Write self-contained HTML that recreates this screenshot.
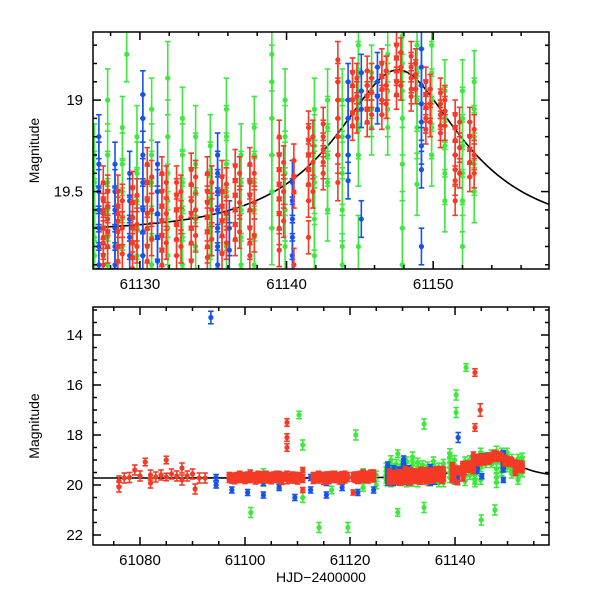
<!DOCTYPE html>
<html><head><meta charset="utf-8">
<style>
html,body{margin:0;padding:0;background:#fff;width:600px;height:600px;overflow:hidden;}
svg{display:block;}
text{font-family:"Liberation Sans",sans-serif;fill:#000;}
</style></head>
<body>
<svg id="chart" width="600" height="600" viewBox="0 0 600 600">
<defs>
<clipPath id="clipTop"><rect x="93" y="32" width="456" height="237"/></clipPath>
<clipPath id="clipBot"><rect x="93" y="307" width="456" height="238"/></clipPath>
</defs>
<g id="topPanel"></g>
<g id="botPanel"></g>
</svg>
<script>
// ---- data: [time, errorbar, [magnitudes]] per observing block ----
const redNights = [
[61076.0,0.2,[19.84,20.08]],[61077.0,0.2,[19.72]],[61078.0,0.2,[19.7]],[61079.0,0.2,[19.4]],
[61080.0,0.2,[19.64]],[61081.0,0.15,[19.08]],[61082.0,0.2,[19.92,19.6]],[61083.0,0.2,[19.68]],
[61084.0,0.2,[19.6]],[61085.0,0.15,[19.0,19.68]],[61086.0,0.2,[19.56]],[61087.0,0.2,[19.64]],
[61088.0,0.2,[19.32,19.8]],[61089.0,0.2,[19.64]],[61090.0,0.2,[19.56]],[61090.5,0.2,[20.16]],
[61091.3,0.2,[19.72]],[61092.4,0.2,[19.72]],
[61097.0,0.1,[19.6,19.7,19.8]],[61097.5,0.1,[19.62,19.78]],[61098.0,0.1,[19.65,19.75,19.85]],[61098.5,0.1,[19.6,19.8]],
[61099.0,0.1,[19.55,19.7,19.8]],[61099.5,0.1,[19.62,19.76]],[61100.0,0.1,[19.6,19.72,19.84]],[61100.5,0.1,[19.58,19.8]],
[61101.0,0.1,[19.5,19.68,19.8]],[61101.5,0.1,[19.6,19.74]],[61102.0,0.1,[19.62,19.74,19.86]],[61102.5,0.1,[19.55,19.8]],
[61103.0,0.1,[19.58,19.7,19.82]],[61103.5,0.1,[19.6,19.78]],[61104.0,0.1,[19.55,19.68,19.8]],[61104.5,0.1,[19.62,19.82]],
[61105.0,0.1,[19.6,19.72,19.85]],[61105.5,0.1,[19.58,19.76]],[61106.0,0.1,[19.55,19.7,19.8]],[61106.5,0.1,[19.62,19.8]],
[61107.0,0.1,[19.6,19.75,19.88]],[61107.5,0.1,[19.6,19.74]],[61108.0,0.15,[17.5,18.1,18.5,19.6,19.8]],[61108.5,0.1,[19.62,19.78]],
[61109.0,0.1,[19.58,19.7,19.82]],[61109.5,0.1,[19.6,19.8]],[61110.0,0.1,[19.6,19.74,19.86]],[61110.5,0.1,[19.62,19.76]],
[61111.0,0.1,[19.4,19.68,19.8,20.2]],
[61113.0,0.1,[19.6,19.72,19.84]],[61113.5,0.1,[19.62,19.8]],[61114.0,0.1,[19.55,19.7,19.82]],[61114.5,0.1,[19.6,19.76]],
[61115.0,0.1,[19.6,19.75,19.88]],[61115.5,0.1,[19.58,19.8]],[61116.0,0.1,[19.58,19.7,19.85]],[61116.5,0.1,[19.62,19.78]],
[61117.0,0.1,[19.55,19.68,19.8]],[61117.5,0.1,[19.6,19.76]],[61118.0,0.1,[19.6,19.72,19.86]],[61118.5,0.1,[19.58,19.8]],
[61119.0,0.1,[19.55,19.7,19.82]],[61119.5,0.1,[19.6,19.76]],[61120.6,0.1,[19.6,19.75,20.3]],[61121.0,0.1,[19.58,19.8]],
[61121.5,0.1,[19.58,19.7,19.84]],[61122.0,0.1,[19.55,19.75]],[61122.5,0.1,[19.5,19.65,19.8]],[61123.0,0.1,[19.55,19.78]],
[61123.5,0.1,[19.55,19.68,19.82]],[61124.0,0.1,[19.5,19.72]],[61124.5,0.1,[19.5,19.65,19.78]],
[61127.5,0.09,[19.45,19.55,19.62,19.7,19.78,19.85,19.9,19.6,19.75]],
[61127.8,0.09,[19.5,19.65,19.8,19.58,19.72]],
[61128.5,0.09,[19.5,19.58,19.66,19.72,19.8,19.88,19.62]],
[61128.8,0.09,[19.55,19.7,19.84]],
[61129.5,0.09,[19.48,19.56,19.64,19.7,19.78,19.86,19.92]],
[61129.8,0.09,[19.52,19.68,19.8]],
[61130.5,0.09,[19.35,19.45,19.55,19.62,19.7,19.8,19.88]],
[61130.8,0.09,[19.42,19.6,19.76]],
[61131.5,0.09,[19.4,19.5,19.58,19.66,19.74,19.82,19.9]],
[61131.8,0.09,[19.45,19.62,19.78]],
[61132.5,0.09,[19.45,19.52,19.6,19.68,19.76,19.85]],
[61132.8,0.09,[19.5,19.64,19.8]],
[61133.5,0.09,[19.38,19.46,19.55,19.62,19.7,19.78,19.88]],
[61133.8,0.09,[19.42,19.6,19.74]],
[61134.6,0.09,[19.4,19.5,19.56,19.64,19.72,19.8,19.86]],
[61134.9,0.09,[19.45,19.6,19.76]],
[61135.6,0.09,[19.42,19.5,19.58,19.66,19.74,19.84]],
[61135.9,0.09,[19.46,19.62,19.78]],
[61136.5,0.09,[19.36,19.44,19.52,19.6,19.68,19.76]],
[61136.8,0.09,[19.4,19.56,19.72]],
[61137.5,0.09,[19.35,19.45,19.52,19.6,19.7,19.78,19.85]],
[61137.8,0.09,[19.4,19.56,19.74]],
[61139.5,0.09,[19.2,19.3,19.38,19.46,19.54,19.62,19.7,19.82]],
[61139.8,0.09,[19.34,19.5,19.66]],
[61140.5,0.09,[19.33,19.42,19.5,19.9]],
[61141.5,0.09,[19.15,19.22,19.3,19.38,19.46,19.55,19.75]],
[61141.8,0.09,[19.2,19.34,19.5]],
[61142.5,0.09,[19.13,19.2,19.27,19.34,19.4]],
[61143.5,0.1,[18.78,18.9,19.0,19.1,19.2,19.3,19.45]],
[61143.8,0.15,[15.5,17.7]],[61144.8,0.25,[17.0]],
[61144.5,0.08,[18.85,18.92,19.0,19.07,19.14]],
[61144.8,0.08,[18.88,18.98,19.1]],
[61145.5,0.08,[18.84,18.92,18.98,19.05,19.12]],
[61145.8,0.08,[18.88,18.96,19.08]],
[61146.5,0.08,[18.8,18.87,18.94,19.0,19.08]],
[61146.8,0.08,[18.84,18.92,19.02]],
[61147.5,0.08,[18.7,18.77,18.84,18.9,18.97]],
[61147.8,0.08,[18.74,18.82,18.92]],
[61148.5,0.08,[18.76,18.82,18.88,18.94,18.98]],
[61148.8,0.08,[18.8,18.86,18.94]],
[61149.5,0.08,[18.9,18.97,19.04,19.1,19.16]],
[61149.8,0.08,[18.94,19.02,19.12]],
[61150.5,0.08,[18.96,19.02,19.08,19.14,19.18]],
[61150.8,0.08,[19.0,19.06,19.14]],
[61151.5,0.08,[19.08,19.15,19.22,19.3,19.38,19.44,19.55]],
[61151.8,0.08,[19.12,19.26,19.4]],
[61152.5,0.08,[19.12,19.2,19.27,19.34,19.42]],
[61152.8,0.08,[19.16,19.3,19.4]]
];
const blueNights = [
[61093.5,0.25,[13.3]],
[61094.5,0.12,[19.7,20.0]],[61097.5,0.12,[19.8,20.2]],[61100.5,0.12,[19.7,20.3]],[61103.5,0.12,[19.9,20.4]],
[61106.5,0.12,[19.6,20.1]],[61109.5,0.12,[19.8,20.5]],[61112.5,0.12,[19.7,20.2]],[61115.5,0.12,[19.9,20.4]],
[61118.5,0.12,[19.6,20.1]],[61121.5,0.12,[19.8,20.3]],[61124.5,0.12,[19.7,20.2]],
[61127.2,0.12,[19.2,19.35,19.5,19.6,19.7,19.8,19.9]],
[61128.3,0.12,[19.35,19.5,19.6,19.7,19.8,19.9]],
[61129.3,0.12,[19.4,19.55,19.65,19.75,19.85]],
[61130.2,0.13,[18.97,19.1,19.3,19.45,19.6,19.72,19.85]],
[61131.2,0.12,[19.35,19.5,19.62,19.75,19.88]],
[61135.3,0.12,[19.3,19.4,19.5,19.6,19.7,19.8,19.9]],
[61136.1,0.15,[19.7,19.82]],
[61140.4,0.12,[19.45,19.55,19.65,19.75,19.85]],
[61140.6,0.2,[18.1]],
[61144.2,0.1,[18.9,19.0,19.1,19.2,19.3,19.44]],
[61145.1,0.1,[18.85,18.95,19.05,19.65]],
[61146.2,0.08,[18.82,18.9,18.98,19.05]],
[61149.2,0.1,[18.72,18.82,18.92,19.02,19.12,19.25,19.38,19.8]]
];
const greenNights = [
[61101.1,0.2,[21.1]],[61103.5,0.15,[19.5,19.9]],[61106.5,0.15,[19.6,20.0]],
[61110.3,0.15,[17.2]],[61111.0,0.2,[18.4,20.5]],[61114.1,0.2,[21.7]],[61116.5,0.15,[19.6,20.2]],
[61119.6,0.2,[21.7]],[61121.1,0.2,[18.0]],[61122.5,0.15,[19.5,20.1]],[61125.0,0.15,[19.6,20.0]],
[61126.9,0.17,[19.3,19.45,19.6,19.75,19.85]],
[61127.8,0.17,[19.0,19.3,19.45,19.6,19.75,19.9]],
[61128.8,0.17,[19.15,19.35,19.5,19.65,19.8]],
[61129.1,0.15,[18.75,21.1]],
[61129.8,0.17,[19.2,19.4,19.55,19.7,19.85]],
[61130.8,0.17,[19.05,19.3,19.45,19.6,19.75,19.9]],
[61131.9,0.2,[18.88,19.2,19.4,19.55,19.7,19.85]],
[61132.9,0.17,[19.1,19.3,19.45,19.6,19.75,19.9]],
[61133.8,0.17,[19.2,19.35,19.5,19.65,19.8]],
[61134.1,0.2,[17.56,20.9]],
[61134.8,0.17,[19.25,19.4,19.55,19.7,19.85]],
[61135.9,0.17,[19.05,19.2,19.35,19.5,19.65,19.8]],
[61136.9,0.17,[19.3,19.45,19.6,19.75,19.9]],
[61137.8,0.17,[19.15,19.3,19.45,19.6,19.75,19.9]],
[61139.0,0.2,[18.75,18.9,19.1,19.3,19.5,19.7]],
[61139.9,0.17,[19.0,19.2,19.4,19.6,19.8]],
[61140.2,0.2,[16.4,17.1]],
[61141.9,0.17,[19.05,19.25,19.45,19.65,19.85]],
[61142.1,0.15,[15.3]],
[61142.8,0.17,[19.0,19.15,19.3,19.45,19.6]],
[61143.8,0.17,[19.0,19.2,19.4,19.6,19.8,19.9]],
[61144.9,0.17,[18.7,18.85,19.0,19.15,19.3,19.8]],
[61145.0,0.2,[21.4]],
[61145.8,0.15,[18.85,18.95,19.05,19.15]],
[61146.9,0.15,[18.75,18.85,18.95,19.05,19.15]],
[61147.6,0.2,[21.0]],
[61147.9,0.2,[18.65,18.8,18.95,19.1,19.35,19.7,19.9]],
[61148.9,0.17,[18.7,18.85,19.0,19.15,19.46]],
[61149.9,0.17,[18.7,18.85,19.0,19.15,19.3]],
[61150.8,0.17,[18.95,19.1,19.25,19.4,19.55]],
[61152.0,0.17,[18.95,19.1,19.25,19.4,19.55,19.8]],
[61152.8,0.17,[18.9,19.05,19.2,19.35,19.5]]
];
// model: t0, u0, tE, baseline mag
const modelParams = [61147.6, 0.48, 7.6, 19.72];
const topXTicks = [61130, 61140, 61150];
const topYTicks = [19, 19.5];
const botXTicks = [61080, 61100, 61120, 61140];
const botYTicks = [14, 16, 18, 20, 22];

const NS = 'http://www.w3.org/2000/svg';
function mk(tag, attrs, parent){const e=document.createElementNS(NS,tag);for(const k in attrs)e.setAttribute(k,attrs[k]);parent.appendChild(e);return e;}

const panels = [
 {g:document.getElementById('topPanel'), clip:'clipTop', x0:93, x1:549, y0:32, y1:269, tmin:61126.8, tmax:61157.9, mmin:18.628, mmax:19.923,
  xTicks:topXTicks, xMinor:2, xMajor:10, yTicks:topYTicks, yMinor:0.1, yMajor:0.5, name:'top'},
 {g:document.getElementById('botPanel'), clip:'clipBot', x0:93, x1:549, y0:307, y1:545, tmin:61071.05, tmax:61157.9, mmin:12.88, mmax:22.4,
  xTicks:botXTicks, xMinor:5, xMajor:20, yTicks:botYTicks, yMinor:0.5, yMajor:2, name:'bottom'}
];

function magModel(t){
  const u0=modelParams[1], tE=modelParams[2];
  const tau=(t-modelParams[0])/tE;
  const u=Math.sqrt(u0*u0+tau*tau);
  const A=(u*u+2)/(u*Math.sqrt(u*u+4));
  return modelParams[3]-2.5*Math.log10(A);
}

const colors = {green:'#3ee83e', blue:'#1652ee', red:'#f53a26'};

panels.forEach(p=>{
  const xs=t=>p.x0+(t-p.tmin)/(p.tmax-p.tmin)*(p.x1-p.x0);
  const ys=m=>p.y0+(m-p.mmin)/(p.mmax-p.mmin)*(p.y1-p.y0);
  const cy=y=>Math.max(p.y0-4,Math.min(p.y1+4,y));
  const data=mk('g',{'clip-path':'url(#'+p.clip+')'},p.g);
  
  
  let d='';
  for(let i=0;i<=400;i++){const t=p.tmin+(p.tmax-p.tmin)*i/400;d+=(i?'L':'M')+xs(t).toFixed(2)+','+ys(magModel(t)).toFixed(2);}
  const curve=mk('path',{d:d,fill:'none',stroke:'#000','stroke-width':1.6},data);
  
  
  [['green',greenNights],['blue',blueNights],['red',redNights]].forEach(([c,arr])=>{
    const sg=mk('g',{stroke:colors[c],fill:colors[c],'stroke-width':1.6},data);
    
    
    arr.forEach(n=>{
      if(n[0]<p.tmin-1||n[0]>p.tmax+1) return;
      const x=xs(n[0]);
      n[2].forEach(m=>{
        if(m+n[1]<p.mmin||m-n[1]>p.mmax) return;
        const y=ys(m), ya=ys(m-n[1]), yb=ys(m+n[1]);
        mk('line',{x1:x,y1:cy(ya),x2:x,y2:cy(yb)},sg);
        if(ya>=p.y0-3) mk('line',{x1:x-2.8,y1:ya,x2:x+2.8,y2:ya},sg);
        if(yb<=p.y1+3) mk('line',{x1:x-2.8,y1:yb,x2:x+2.8,y2:yb},sg);
        if(y>=p.y0-3&&y<=p.y1+3){
          const pt=mk('circle',{cx:x,cy:y,r:2.6,stroke:'none'},sg);
          
          
        }
      });
    });
  });
  const ax=mk('g',{stroke:'#000','stroke-width':1.5,fill:'none'},p.g);
  
  
  mk('rect',{x:p.x0,y:p.y0,width:p.x1-p.x0,height:p.y1-p.y0},ax);
  const nx0=Math.ceil(p.tmin/p.xMinor), nx1=Math.floor(p.tmax/p.xMinor);
  for(let k=nx0;k<=nx1;k++){
    const t=k*p.xMinor, x=xs(t); const major=Math.abs(t/p.xMajor-Math.round(t/p.xMajor))<1e-6;
    const L=major?8:4;
    mk('line',{x1:x,y1:p.y1,x2:x,y2:p.y1-L},ax);
    mk('line',{x1:x,y1:p.y0,x2:x,y2:p.y0+L},ax);
  }
  const ny0=Math.ceil(p.mmin/p.yMinor-1e-6), ny1=Math.floor(p.mmax/p.yMinor+1e-6);
  for(let k=ny0;k<=ny1;k++){
    const m=k*p.yMinor, y=ys(m); const major=Math.abs(m/p.yMajor-Math.round(m/p.yMajor))<1e-6;
    const L=major?8:4;
    mk('line',{x1:p.x0,y1:y,x2:p.x0+L,y2:y},ax);
    mk('line',{x1:p.x1,y1:y,x2:p.x1-L,y2:y},ax);
  }
  p.xTicks.forEach(t=>{
    const tx=mk('text',{x:xs(t),y:p.y1+20,'text-anchor':'middle','font-size':15},p.g);
    tx.textContent=String(t);
    
    
  });
  p.yTicks.forEach(m=>{
    const tx=mk('text',{x:p.x0-10,y:ys(m)+5,'text-anchor':'end','font-size':15},p.g);
    tx.textContent=String(m);
    
    
  });
  const yt=mk('text',{x:0,y:0,'text-anchor':'middle','font-size':14,transform:'translate(39,'+((p.y0+p.y1)/2)+') rotate(-90)'},p.g);
  yt.textContent='Magnitude';
  
  
});
const xt=mk('text',{x:321,y:582,'text-anchor':'middle','font-size':14},document.getElementById('botPanel'));
xt.textContent='HJD\u22122400000';


</script>
</body></html>
